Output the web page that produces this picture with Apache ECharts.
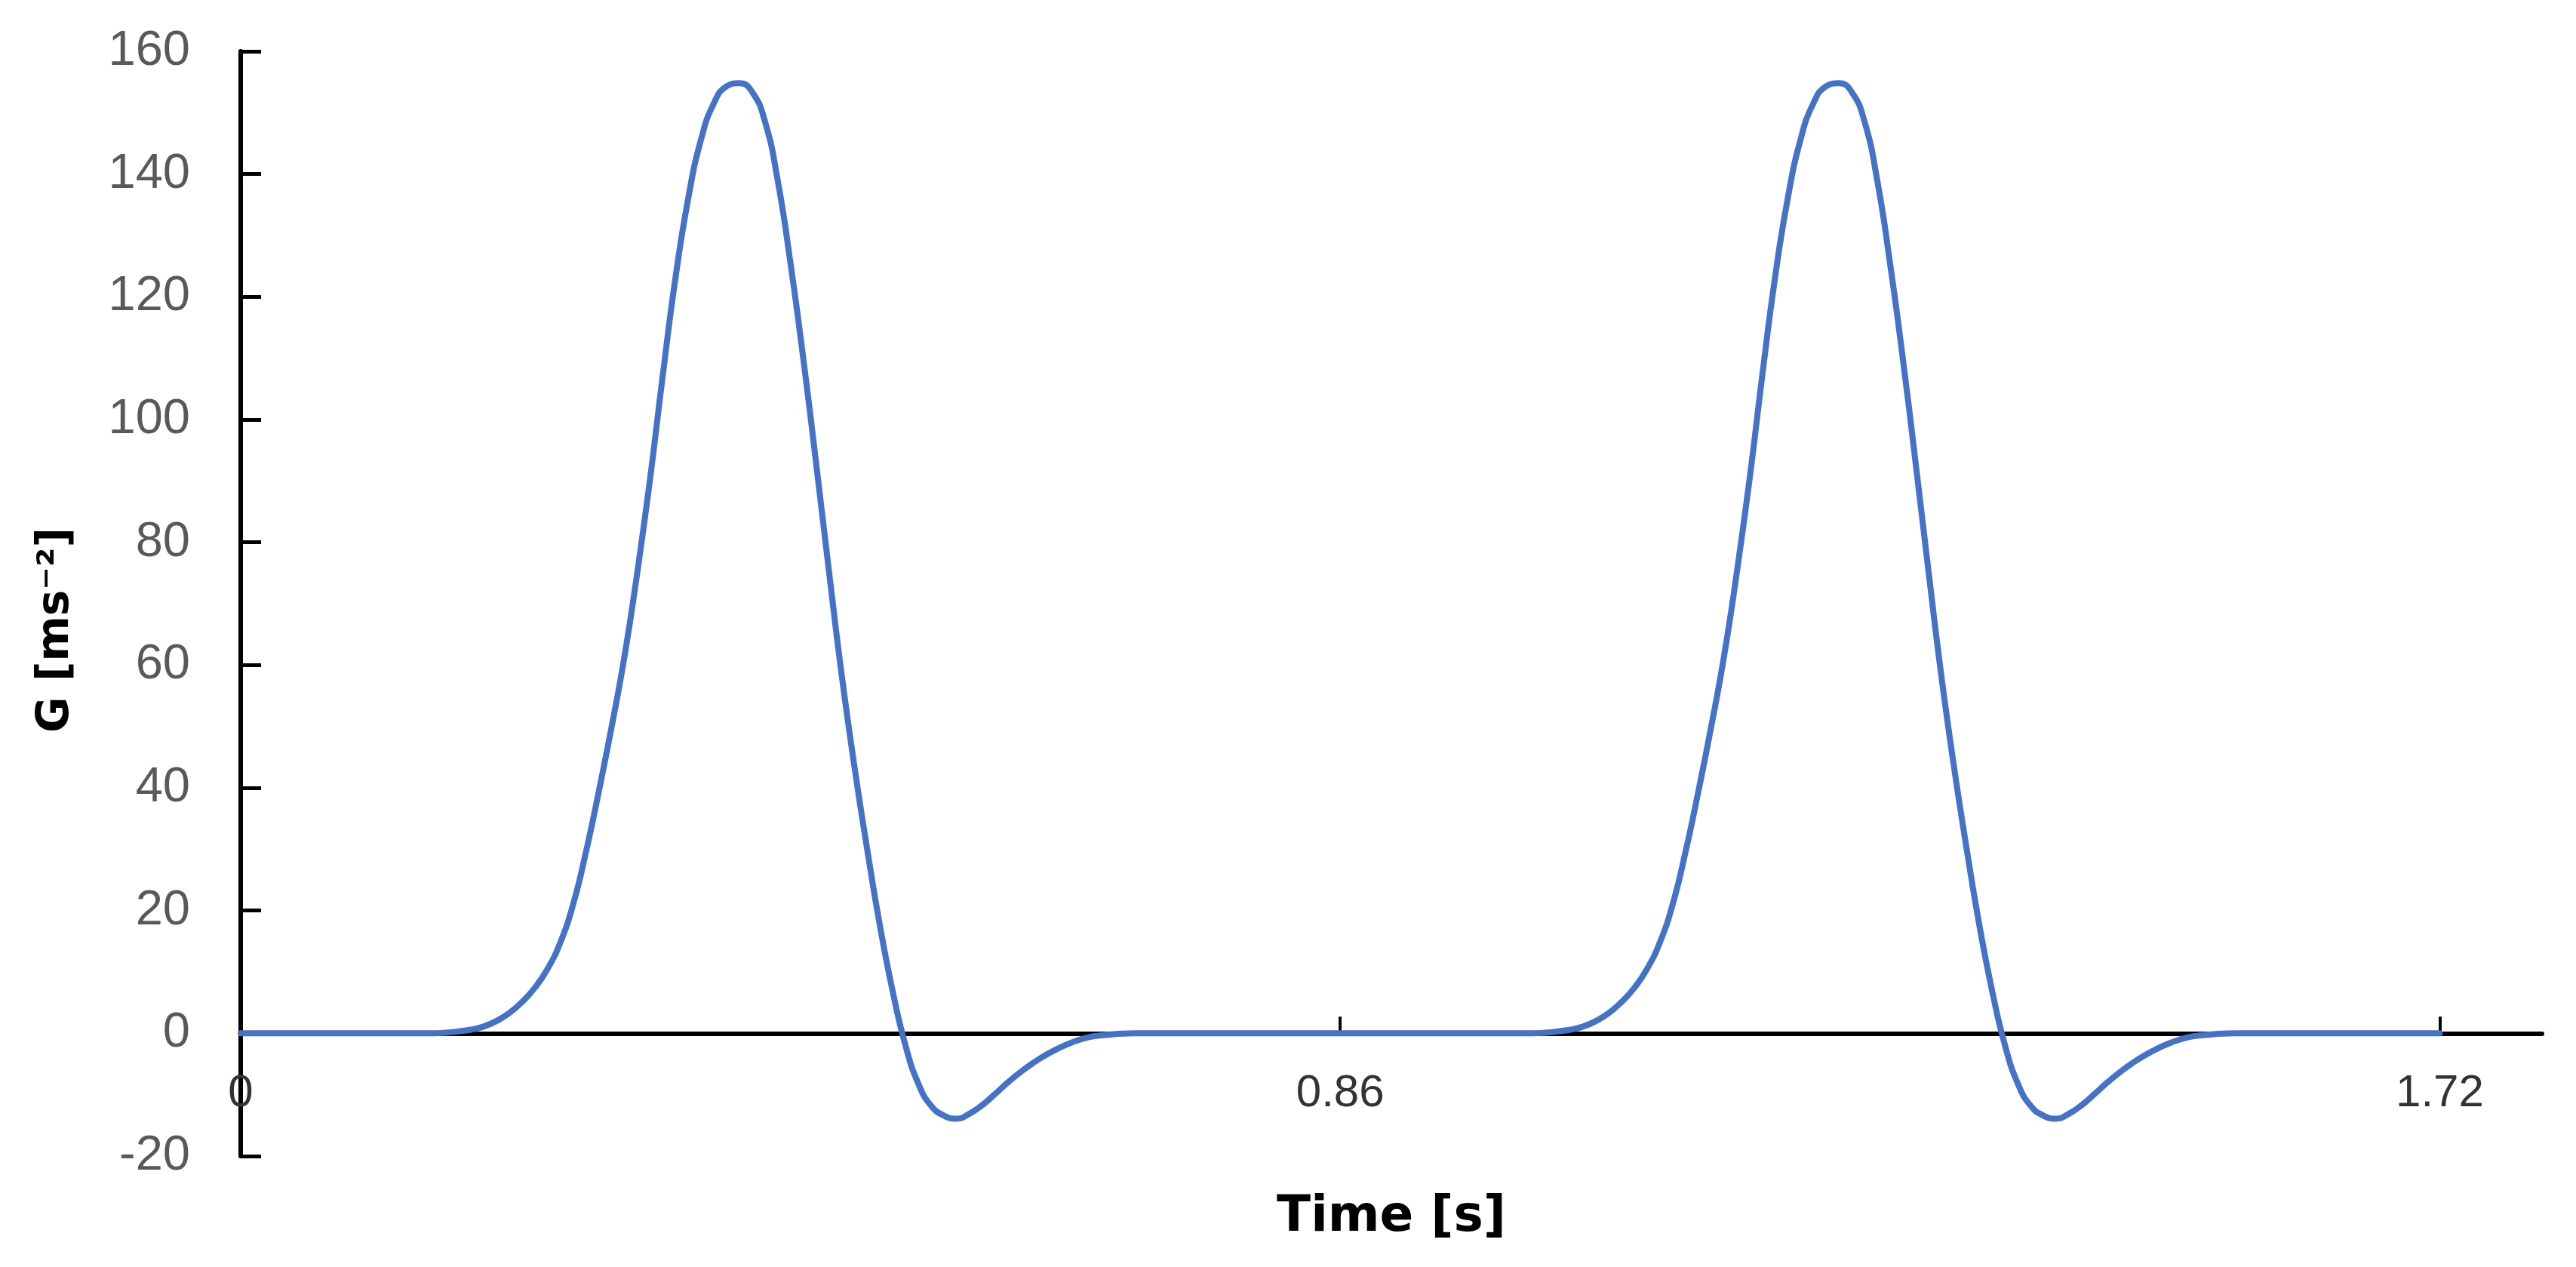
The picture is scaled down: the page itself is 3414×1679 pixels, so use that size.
<!DOCTYPE html>
<html>
<head>
<meta charset="utf-8">
<script src="https://cdn.jsdelivr.net/npm/echarts@6/dist/echarts.min.js"></script>
<style>
  html, body { margin: 0; padding: 0; background: #ffffff; }
  #chart { width: 3414px; height: 1679px; }
</style>
</head>
<body>
<div id="chart"></div>
<script>
// First pulse: time [s] and G [ms^-2]
const pulse1Time = [
  0, 0.10,
  0.15, 0.16, 0.17, 0.18, 0.19, 0.20, 0.21, 0.22, 0.23, 0.24,
  0.25, 0.26, 0.27, 0.28, 0.29, 0.30, 0.31, 0.32, 0.33, 0.34,
  0.35, 0.36, 0.37, 0.38, 0.39, 0.40, 0.41, 0.42, 0.43, 0.44,
  0.45, 0.46, 0.47, 0.48, 0.49, 0.50, 0.51, 0.52, 0.53, 0.54,
  0.55, 0.56, 0.57, 0.58, 0.59, 0.60, 0.61, 0.62, 0.63, 0.64,
  0.65, 0.66, 0.67, 0.68, 0.69, 0.70,
  0.80
];
const pulse1G = [
  0, 0,
  0, 0.1, 0.3, 0.6, 1.1, 2.0, 3.3, 5.1, 7.4, 10.5,
  14.8, 21.0, 29.5, 39.3, 49.8, 61.2, 74.8, 90, 107, 123,
  136, 145.6, 151.5, 154.3, 154.8, 153.4, 148.6, 139, 125.5, 110,
  93, 75.5, 58.5, 43.5, 30, 17.5, 6.8, -2.0, -8.2, -11.8,
  -13.4, -13.9, -13.1, -11.7, -9.9, -8.0, -6.3, -4.8, -3.5, -2.4,
  -1.5, -0.8, -0.4, -0.2, -0.05, 0,
  0
];
// Second pulse: time [s] and G [ms^-2]
const pulse2Time = [
  1.01, 1.02, 1.03, 1.04, 1.05, 1.06, 1.07, 1.08, 1.09, 1.10,
  1.11, 1.12, 1.13, 1.14, 1.15, 1.16, 1.17, 1.18, 1.19, 1.20,
  1.21, 1.22, 1.23, 1.24, 1.25, 1.26, 1.27, 1.28, 1.29, 1.30,
  1.31, 1.32, 1.33, 1.34, 1.35, 1.36, 1.37, 1.38, 1.39, 1.40,
  1.41, 1.42, 1.43, 1.44, 1.45, 1.46, 1.47, 1.48, 1.49, 1.50,
  1.51, 1.52, 1.53, 1.54, 1.55, 1.56,
  1.72
];
const pulse2G = [
  0, 0.1, 0.3, 0.6, 1.1, 2.0, 3.3, 5.1, 7.4, 10.5,
  14.8, 21.0, 29.5, 39.3, 49.8, 61.2, 74.8, 90, 107, 123,
  136, 145.6, 151.5, 154.3, 154.8, 153.4, 148.6, 139, 125.5, 110,
  93, 75.5, 58.5, 43.5, 30, 17.5, 6.8, -2.0, -8.2, -11.8,
  -13.4, -13.9, -13.1, -11.7, -9.9, -8.0, -6.3, -4.8, -3.5, -2.4,
  -1.5, -0.8, -0.4, -0.2, -0.05, 0,
  0
];
const xTickValues = [0, 0.86, 1.72];
const xAxisMin = 0, xAxisMax = 1.8;
const yAxisMin = -20, yAxisMax = 160, yAxisStep = 20;
const xAxisTitle = 'Time [s]';
const yAxisTitle = 'G [ms\u207B\u00B2]';

const timeS = pulse1Time.concat(pulse2Time);
const gValues = pulse1G.concat(pulse2G);
const seriesData = timeS.map((t, i) => [t, gValues[i]]);

const W = 3414, H = 1679;
const grid = { left: 319, right: 45, top: 68, bottom: 147 };
const gridHeight = H - grid.top - grid.bottom;
// place the x axis line at G = 0
const xAxisOffset = -gridHeight * (0 - yAxisMin) / (yAxisMax - yAxisMin);

const chart = echarts.init(document.getElementById('chart'), null, { renderer: 'canvas' });
chart.setOption({
  animation: false,
  backgroundColor: '#ffffff',
  grid: Object.assign({ containLabel: false, outerBoundsMode: 'none' }, grid),
  xAxis: {
    type: 'value',
    min: xAxisMin,
    max: xAxisMax,
    offset: xAxisOffset,
    name: xAxisTitle,
    nameLocation: 'middle',
    nameGap: 212,
    nameTextStyle: { fontFamily: 'DejaVu Sans', fontWeight: 'bold', fontSize: 66, color: '#000000' },
    axisLine: { show: true, onZero: false, lineStyle: { color: '#000000', width: 6 } },
    axisTick: { show: true, inside: true, length: 22, lineStyle: { color: '#000000', width: 4 }, customValues: xTickValues },
    axisLabel: {
      margin: 50, fontFamily: 'Liberation Sans', fontSize: 60, color: '#333333',
      customValues: xTickValues,
      formatter: v => String(+v.toFixed(2))
    },
    splitLine: { show: false }
  },
  yAxis: {
    type: 'value',
    min: yAxisMin,
    max: yAxisMax,
    interval: yAxisStep,
    name: yAxisTitle,
    nameLocation: 'middle',
    nameGap: 215,
    nameRotate: 90,
    nameTextStyle: { fontFamily: 'DejaVu Sans', fontWeight: 'bold', fontSize: 58, color: '#000000', padding: [0, 70, 0, 0] },
    axisLine: { show: true, onZero: false, lineStyle: { color: '#000000', width: 6 } },
    axisTick: { show: true, inside: true, length: 27, lineStyle: { color: '#000000', width: 5 } },
    axisLabel: { margin: 67, fontFamily: 'Liberation Sans', fontSize: 65, color: '#595959' },
    splitLine: { show: false }
  },
  series: [{
    type: 'line',
    data: seriesData,
    showSymbol: false,
    smooth: 0.5,
    lineStyle: { color: '#4472C4', width: 8, join: 'round', cap: 'round' },
    itemStyle: { color: '#4472C4' },
    z: 3
  }]
});
</script>
</body>
</html>
